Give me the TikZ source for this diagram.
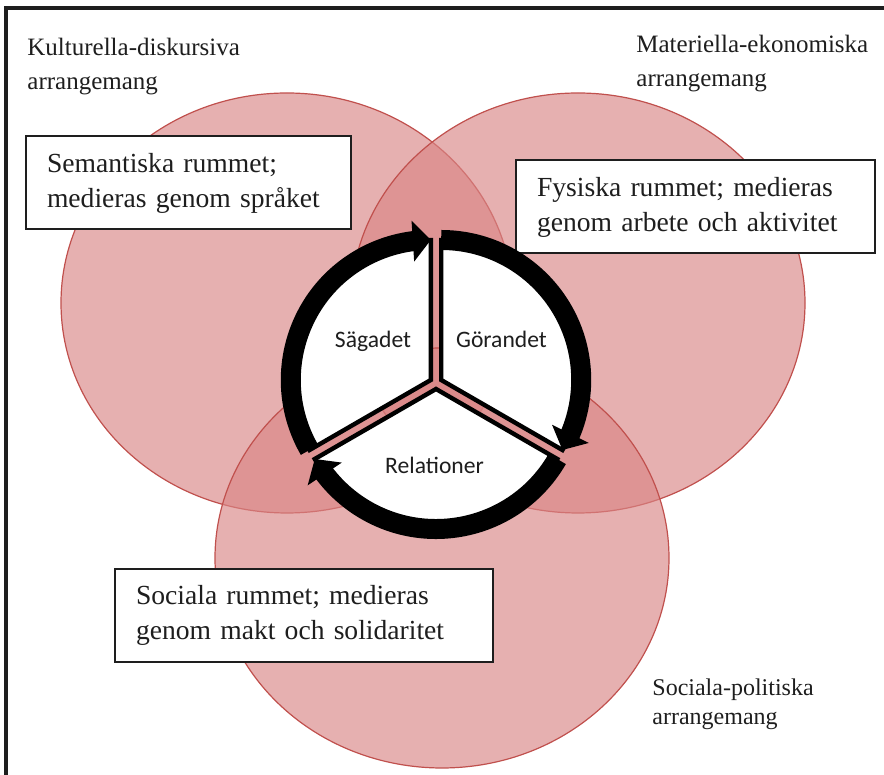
\documentclass[tikz,border=0pt]{standalone}
\usepackage{fontspec}
\setmainfont{Liberation Serif}
\newfontfamily\wheelfont{Carlito}
\usepackage{tikz}
\usetikzlibrary{arrows.meta,bending}
\definecolor{vennfill}{RGB}{217,133,133}
\definecolor{vennedge}{HTML}{C0504D}
\definecolor{inkdark}{HTML}{1E1E1E}

\begin{document}
\begin{tikzpicture}[
  x=0.5pt, y=0.5pt,
  venn/.style={
    fill=vennfill, fill opacity=0.65,
    draw=vennedge, line width=0.6pt,
  },
  roombox/.style={
    draw=inkdark, line width=1pt, fill=white, text=inkdark,
    align=left, inner xsep=10.5pt, inner ysep=0pt,
    minimum height=46.5pt,
    font=\fontsize{13.8}{17.5}\selectfont,
  },
  arrlabel/.style={
    anchor=north west, inner sep=0pt, text=inkdark, align=left,
    font=\fontsize{12.5}{17}\selectfont,
  },
  sector/.style={fill=white, draw=black, line width=2.2pt, line join=miter},
  ring/.style={
    draw=black, line width=10pt,
    -{Triangle[width=20pt,length=9pt]},
  },
  wheellabel/.style={
    anchor=base, text=inkdark,
    font=\wheelfont\fontsize{11.8}{14}\selectfont,
  },
]
\useasboundingbox (0,0) rectangle (884,775);

% === FRAME (top and left edge only) ===
\draw[inkdark, line width=1.75pt] (6,0) -- (6,767) -- (884,767);

% === THREE ARRANGEMENT ELLIPSES ===
\draw[venn] (287,472) ellipse [x radius=226, y radius=210];
\draw[venn] (578,472) ellipse [x radius=227, y radius=210];
\draw[venn] (442,217) ellipse [x radius=227, y radius=210];

% === ARRANGEMENT LABELS ===
\node[arrlabel] (kd) at (27,737) {Kulturella-diskursiva\\arrangemang};
\node[arrlabel] (me) at (636,740) {Materiella-ekonomiska\\arrangemang};
\node[arrlabel, font=\fontsize{12}{14.5}\selectfont] (sp) at (652,97)
  {Sociala-politiska\\arrangemang};

% === ROOM BOXES ===
\node[roombox, text width=141.5pt] (sem) at (188.5,592)
  {Semantiska rummet;\\medieras genom språket};
\node[roombox, text width=158.5pt] (fys) at (695.5,568)
  {Fysiska rummet; medieras\\genom arbete och aktivitet};
\node[roombox, text width=168pt] (soc) at (304,159.5)
  {Sociala rummet; medieras\\genom makt och solidaritet};

% === WHEEL: three exploded sectors, arrows clockwise ===
\begin{scope}[shift={(436,392)}]
  \begin{scope}[shift={(150:6)}]
    \filldraw[sector] (0,0) -- (90:140)
      arc [start angle=90, end angle=210, radius=140] -- cycle;
    \draw[ring] (210:140) arc [start angle=210, end angle=90, radius=140];
  \end{scope}
  \begin{scope}[shift={(30:6)}]
    \filldraw[sector] (0,0) -- (-30:140)
      arc [start angle=-30, end angle=90, radius=140] -- cycle;
    \draw[ring] (90:140) arc [start angle=90, end angle=-30, radius=140];
  \end{scope}
  \begin{scope}[shift={(270:6)}]
    \filldraw[sector] (0,0) -- (210:140)
      arc [start angle=210, end angle=330, radius=140] -- cycle;
    \draw[ring] (330:140) arc [start angle=330, end angle=210, radius=140];
  \end{scope}
\end{scope}

\node[wheellabel] (sag) at (373,427) {Sägadet};
\node[wheellabel] (gor) at (501.5,427) {Görandet};
\node[wheellabel] (rel) at (434.5,301) {Relationer};

\end{tikzpicture}
\end{document}
